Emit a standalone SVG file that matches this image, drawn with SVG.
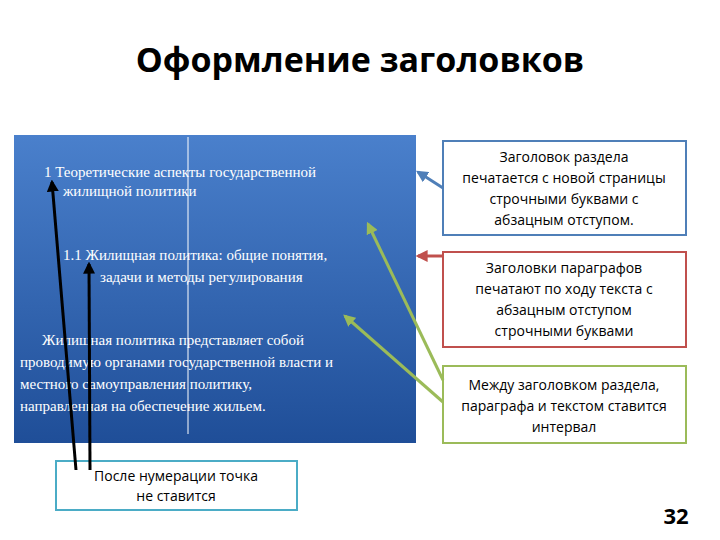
<svg xmlns="http://www.w3.org/2000/svg" width="720" height="540" viewBox="0 0 720 540">
<style>
.t{font-family:"Liberation Serif",serif;font-size:15px;fill:#fff}
.c{font-family:"Open Sans","Liberation Sans",sans-serif;font-size:14px;fill:#000;text-anchor:middle}
.box{fill:#fff;stroke-width:2}
</style>
<defs>
<linearGradient id="g" x1="0" y1="0" x2="0" y2="1"><stop offset="0" stop-color="#4a80cc"/><stop offset="1" stop-color="#1f4e98"/></linearGradient>
<marker id="mb" viewBox="0 0 10 10" refX="8" refY="5" markerWidth="4" markerHeight="4" orient="auto"><path d="M0,0L10,5L0,10z" fill="#4f7fb8"/></marker>
<marker id="mr" viewBox="0 0 10 10" refX="8" refY="5" markerWidth="4" markerHeight="4" orient="auto"><path d="M0,0L10,5L0,10z" fill="#c0504d"/></marker>
<marker id="mg" viewBox="0 0 10 10" refX="8" refY="5" markerWidth="4" markerHeight="4" orient="auto"><path d="M0,0L10,5L0,10z" fill="#9bbb59"/></marker>
<marker id="mk" viewBox="0 0 10 10" refX="8" refY="5" markerWidth="4" markerHeight="4" orient="auto"><path d="M0,0L10,5L0,10z" fill="#000"/></marker>
</defs>
<rect width="720" height="540" fill="#fff"/>
<text x="360" y="72" text-anchor="middle" font-family="Open Sans,Liberation Sans,sans-serif" font-size="34" font-weight="bold">Оформление заголовков</text>
<g id="panel">
<rect x="14" y="135" width="402" height="308" fill="url(#g)"/>
<line x1="188" y1="137" x2="188" y2="434" stroke="#fff" stroke-width="1"/>
<text class="t" x="44" y="177">1  Теоретические   аспекты   государственной</text>
<text class="t" x="63" y="196">жилищной политики</text>
<text class="t" x="63" y="260">1.1   Жилищная политика: общие понятия,</text>
<text class="t" x="100" y="282">задачи и методы регулирования</text>
<text class="t" x="42" y="345">Жилищная    политика    представляет    собой</text>
<text class="t" x="20" y="367">проводимую органами государственной власти и</text>
<text class="t" x="20" y="389">местного          самоуправления          политику,</text>
<text class="t" x="20" y="411">направленная на обеспечение жильем.</text>
</g>
<g id="n1"><rect class="box" x="443" y="141" width="243" height="94" stroke="#4f7fb8"/>
<text class="c" x="564" y="162">Заголовок раздела</text><text class="c" x="564" y="183">печатается с новой страницы</text><text class="c" x="564" y="204">строчными буквами с</text><text class="c" x="564" y="225">абзацным отступом.</text></g>
<g id="n2"><rect class="box" x="443" y="252" width="243" height="95" stroke="#c0504d"/>
<text class="c" x="564" y="273">Заголовки параграфов</text><text class="c" x="564" y="294">печатают по ходу текста с</text><text class="c" x="564" y="315">абзацным отступом</text><text class="c" x="564" y="336">строчными буквами</text></g>
<g id="n3"><rect class="box" x="443" y="366" width="243" height="77" stroke="#9bbb59"/>
<text class="c" x="564" y="390">Между заголовком раздела,</text><text class="c" x="564" y="411">параграфа и текстом ставится</text><text class="c" x="564" y="432">интервал</text></g>
<g id="n4"><rect class="box" x="56" y="461" width="241" height="49" stroke="#4bacc6" stroke-width="1.5"/>
<text class="c" x="176" y="481">После нумерации точка</text><text class="c" x="176" y="501">не ставится</text></g>
<g id="connectors" fill="none" stroke-width="3">
<line x1="443" y1="188" x2="418" y2="172" stroke="#4f7fb8" marker-end="url(#mb)"/>
<line x1="443" y1="256" x2="418" y2="256" stroke="#c0504d" marker-end="url(#mr)"/>
<line x1="443" y1="380" x2="368" y2="224" stroke="#9bbb59" marker-end="url(#mg)"/>
<line x1="443" y1="402" x2="345" y2="316" stroke="#9bbb59" marker-end="url(#mg)"/>
<line x1="76" y1="470" x2="52" y2="182" stroke="#000" marker-end="url(#mk)"/>
<line x1="90" y1="470" x2="89" y2="264" stroke="#000" marker-end="url(#mk)"/>
</g>
<text x="676" y="524" text-anchor="middle" font-family="Open Sans,Liberation Sans,sans-serif" font-size="22" font-weight="bold">32</text>
</svg>
